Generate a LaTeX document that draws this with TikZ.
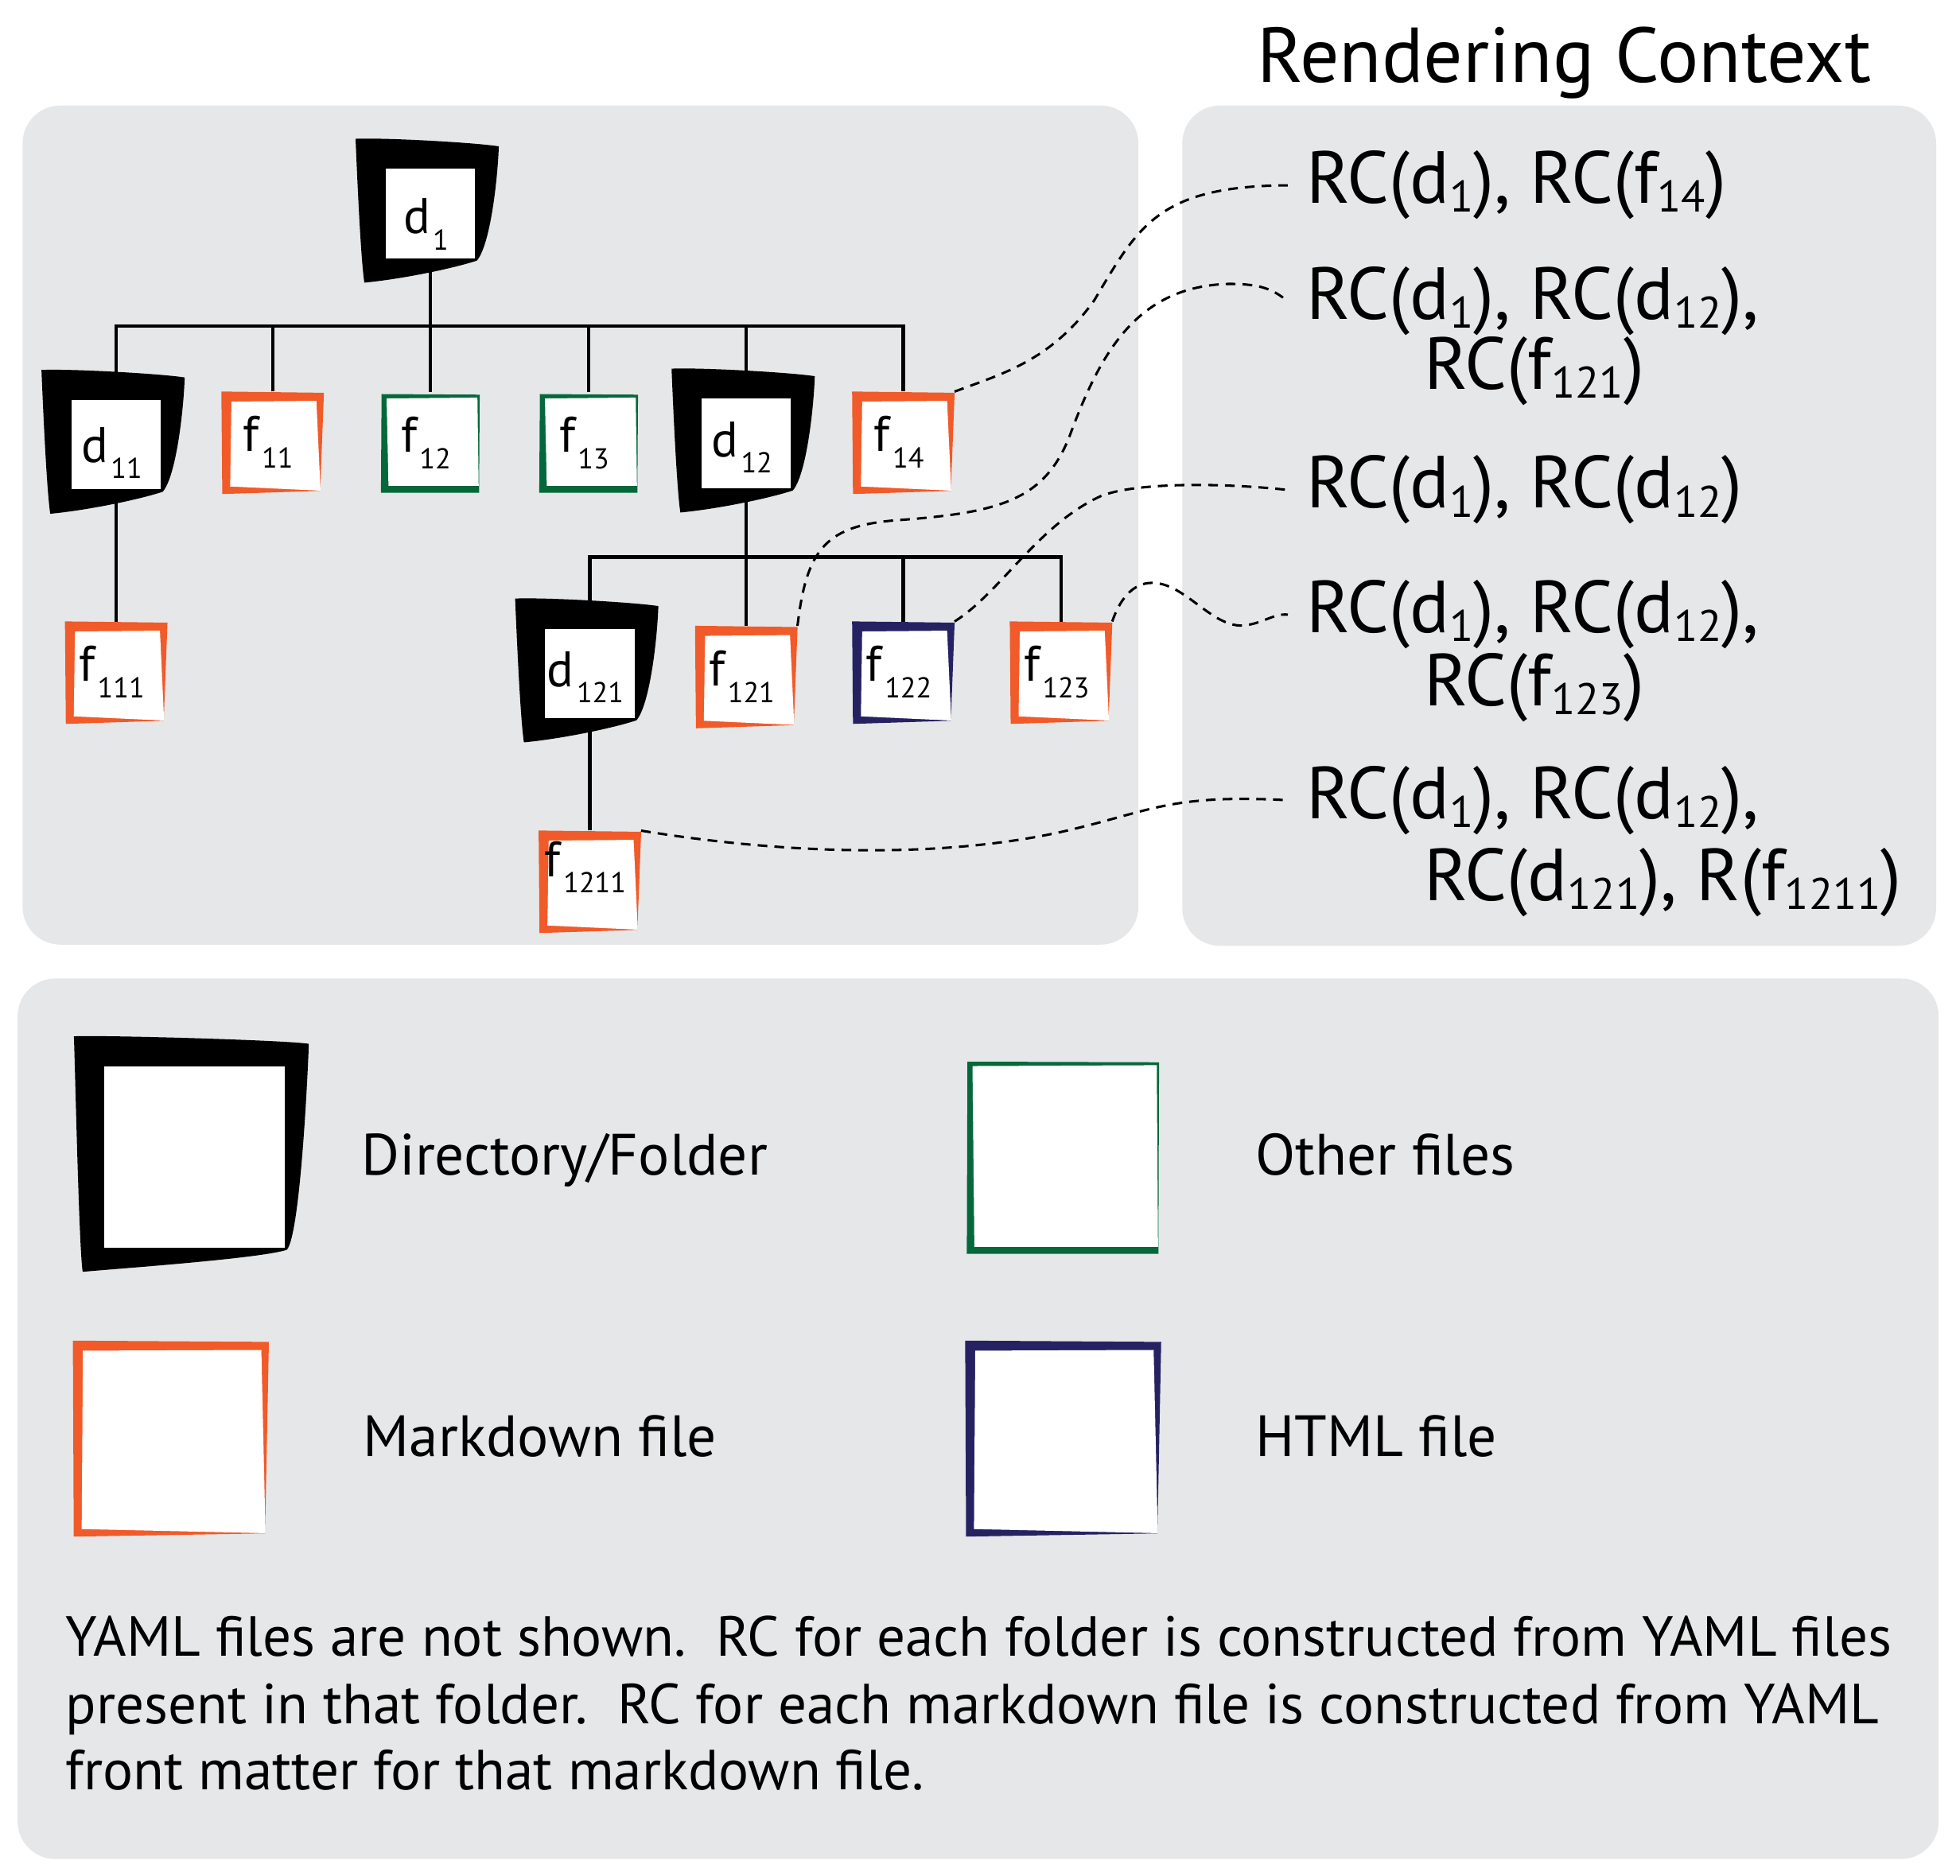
\documentclass[tikz,border=0pt]{standalone}
\usepackage{fontspec}
\setmainfont{PT Sans}
\usetikzlibrary{calc}

\definecolor{panelgray}{HTML}{E6E7E8}
\definecolor{mdorange}{HTML}{F15A29}
\definecolor{othergreen}{HTML}{05683A}
\definecolor{htmlnavy}{HTML}{262262}

\pgfdeclarelayer{bg}
\pgfdeclarelayer{mid}
\pgfsetlayers{bg,mid,main}

% name with a lowered index, as in the tree
\newcommand{\treename}[3][-2pt]{\smash{\raisebox{#1}{#2\kern0.6pt\raisebox{-3.7pt}{\fontsize{6.5}{7}\selectfont #3}}}\kern2pt}
\newcommand{\rcidx}[1]{\raisebox{-2pt}{\fontsize{10}{11}\selectfont #1}}

% black folder outline behind a node
\newcommand{\folderback}[2]{%
	\begin{scope}[shift={(#1.center)}]
	\pgfmathsetmacro{\hs}{#2}
	\fill (-\hs-24,-\hs-24) .. controls (-\hs,-\hs-25) and (\hs,-\hs-21) .. (\hs+19,-\hs-18)
		.. controls (\hs+18,-\hs+10) and (\hs+12,\hs-10) .. (\hs+1.5,\hs+2)
		.. controls (\hs-20,\hs+9) and (-\hs+10,\hs+17) .. (-\hs-17,\hs+19.5)
		.. controls (-\hs-20,\hs) and (-\hs-23,-\hs) .. cycle;
	\end{scope}}
% skewed frame behind markdown and html files
\newcommand{\fileback}[3]{%
	\begin{scope}[shift={(#1.center)}]
	\pgfmathsetmacro{\hs}{#2}
	\fill[#3] (-\hs,-\hs) -- (\hs,-\hs+1) -- (\hs-3,\hs-2.5) -- (-\hs+0.7,\hs) -- cycle;
	\fill[white] (-\hs+8,-\hs+8) -- (\hs-6,-\hs+7.4) -- (\hs-2.7,\hs-2.7) -- (-\hs+7,\hs-6) -- cycle;
	\end{scope}}
% frame behind other files
\newcommand{\otherback}[2]{%
	\begin{scope}[shift={(#1.center)}]
	\pgfmathsetmacro{\hs}{#2}
	\fill[othergreen] (-\hs+0.5,-\hs) -- (\hs,-\hs+0.5) -- (\hs-0.5,\hs) -- (-\hs,\hs) -- cycle;
	\fill[white] (-\hs+4.5,-\hs+3.5) -- (\hs-1.8,-\hs+2.8) -- (\hs-0.8,\hs-5.5) -- (-\hs+6,\hs-5.5) -- cycle;
	\end{scope}}

\tikzset{
	panel/.style={fill=panelgray, rounded corners=0.3cm},
	folder/.style={inner sep=0pt, minimum size=0.71cm, fill=white, font=\fontsize{11.3}{12}\selectfont},
	filebox/.style={inner sep=0pt, minimum size=0.8cm, font=\fontsize{11.3}{12}\selectfont},
	treeline/.style={line width=0.8pt},
	rclink/.style={line width=0.55pt, dash pattern=on 2.2pt off 1.6pt},
	rctext/.style={inner xsep=0.14cm, inner ysep=0pt, anchor=base west, font=\fontsize{16.7}{17}\selectfont},
	legtext/.style={inner sep=0pt, anchor=base west, font=\fontsize{13.2}{15}\selectfont},
	notetext/.style={inner sep=0pt, anchor=base west, font=\fontsize{12.8}{15}\selectfont},
}

\begin{document}
\begin{tikzpicture}[x=0.01cm, y=-0.01cm]
	\useasboundingbox (0,0) rectangle (1560,1493.5);

	% panels
	\begin{pgfonlayer}{bg}
	\fill[panel] (18,84) rectangle (906,752);
	\fill[panel] (941,84) rectangle (1541,753);
	\fill[panel] (14,779) rectangle (1543,1480);
	\end{pgfonlayer}

	\node[inner sep=0pt, anchor=base west, font=\fontsize{17.6}{18}\selectfont] (title) at (1000,65.4) {Rendering Context};

	% folders
	\node[folder] (d1) at (342.5,170) {\treename[-4.5pt]{d}{1}};
	\node[folder] (d11) at (92.5,354) {\treename[-4pt]{d}{11}};
	\node[folder] (d12) at (594,353) {\treename[-3pt]{d}{12}};
	\node[folder] (d121) at (469.5,536) {\treename[-3pt]{d}{121}};

	% files
	\node[filebox] (f11) at (217,352.5) {\treename{f}{11}};
	\node[filebox] (f12) at (342.5,353) {\treename{f}{12}};
	\node[filebox] (f13) at (468.5,353) {\treename{f}{13}};
	\node[filebox] (f14) at (719,352.5) {\treename{f}{14}};
	\node[filebox] (f111) at (92.5,535.5) {\treename{f}{111}};
	\node[filebox] (f121) at (594,539) {\treename{f}{121}};
	\node[filebox] (f122) at (719,535.5) {\treename{f}{122}};
	\node[filebox] (f123) at (844.5,535.5) {\treename{f}{123}};
	\node[filebox] (f1211) at (469.5,702) {\treename[1.2pt]{f}{1211}};

	% tree lines
	\coordinate (bar1) at (342.5,259.5);
	\coordinate (bar2) at (594,443.5);
	\draw[treeline] (d1.south) -- (f12.north);
	\draw[treeline] (d11.north) |- (bar1) -| (f14.north);
	\foreach \n in {f11,f13,d12}
		\draw[treeline] (\n.north) -- (\n.north |- bar1);
	\draw[treeline] (d11.south) -- (f111.north);
	\draw[treeline] (d12.south) -- (f121.north);
	\draw[treeline] (d121.north) |- (bar2) -| (f123.north);
	\draw[treeline] (f122.north) -- (f122.north |- bar2);
	\draw[treeline] (d121.south) -- (f1211.north);

	% rendering contexts
	\node[rctext] (rc14) at (1025,162) {RC(d\rcidx{1}), RC(f\rcidx{14})};
	\node[rctext] (rc121) at (1025,254.4) {RC(d\rcidx{1}), RC(d\rcidx{12}),};
	\node[rctext] (rc121b) at (1119,310) {RC(f\rcidx{121})};
	\node[rctext] (rc12) at (1025,404.5) {RC(d\rcidx{1}), RC(d\rcidx{12})};
	\node[rctext] (rc123) at (1025,503.8) {RC(d\rcidx{1}), RC(d\rcidx{12}),};
	\node[rctext] (rc123b) at (1119,562) {RC(f\rcidx{123})};
	\node[rctext] (rc1211) at (1025,651.5) {RC(d\rcidx{1}), RC(d\rcidx{12}),};
	\node[rctext] (rc1211b) at (1119,717) {RC(d\rcidx{121}), R(f\rcidx{1211})};

	% dotted links
	\draw[rclink] (f14.north east) .. controls (796,298) and (836,288) .. (871,239)
		.. controls (906,180) and (922,148) .. (rc14.west);
	\draw[rclink] (f121.north east) .. controls (642,437) and (657,418) .. (716,414)
		.. controls (796,408) and (831,398) .. (851,348)
		.. controls (876,280) and (905,228) .. (978,226)
		.. controls (1003,226) and (1013,230) .. (rc121.west);
	\draw[rclink] (f122.north east) .. controls (796,472) and (826,418) .. (876,395)
		.. controls (906,383) and (980,385) .. (rc12.west);
	\draw[rclink] (f123.north east) .. controls (891,478) and (901,464) .. (917,464)
		.. controls (943,464) and (964,499) .. (989,498)
		.. controls (1004,497) and (1014,488) .. (rc123.west);
	\draw[rclink] (f1211.north east) .. controls (637,682) and (756,682) .. (846,662)
		.. controls (916,646) and (930,632) .. (rc1211.west);

	% legend
	\node[folder, minimum size=1.44cm] (legdir) at (154.8,921) {};
	\node[filebox, minimum size=1.53cm] (legother) at (846,921.7) {};
	\node[filebox, minimum size=1.56cm] (legmd) at (136,1145.3) {};
	\node[filebox, minimum size=1.56cm] (leghtml) at (846.2,1145.3) {};
	\node[legtext] (legdirtext) at (287,935.6) {Directory/Folder};
	\node[legtext] (legothertext) at (998.5,935.6) {Other files};
	\node[legtext] (legmdtext) at (288.5,1159.5) {Markdown file};
	\node[legtext] (leghtmltext) at (998.5,1159.5) {HTML file};
	\node[notetext] (note1) at (51.8,1318.6) {YAML files are not shown.\ \ RC for each folder is constructed from YAML files};
	\node[notetext] (note2) at (51.8,1372.4) {present in that folder.\ \ RC for each markdown file is constructed from YAML};
	\node[notetext] (note3) at (51.8,1425) {front matter for that markdown file.};

	% shapes behind the nodes
	\begin{pgfonlayer}{mid}
	\foreach \n/\sz in {d1/35.5, d11/35.5, d12/35.5, d121/35.5, legdir/72}
		{\folderback{\n}{\sz}}
	\foreach \n/\sz/\col in {f11/40.8/mdorange, f14/40.8/mdorange, f111/40.8/mdorange,
		f121/40.8/mdorange, f123/40.8/mdorange, f1211/40.8/mdorange, f122/40.8/htmlnavy,
		legmd/78/mdorange, leghtml/78/htmlnavy}
		{\fileback{\n}{\sz}{\col}}
	\foreach \n/\sz in {f12/39.3, f13/39.3, legother/76.5}
		{\otherback{\n}{\sz}}
	\end{pgfonlayer}
\end{tikzpicture}
\end{document}
